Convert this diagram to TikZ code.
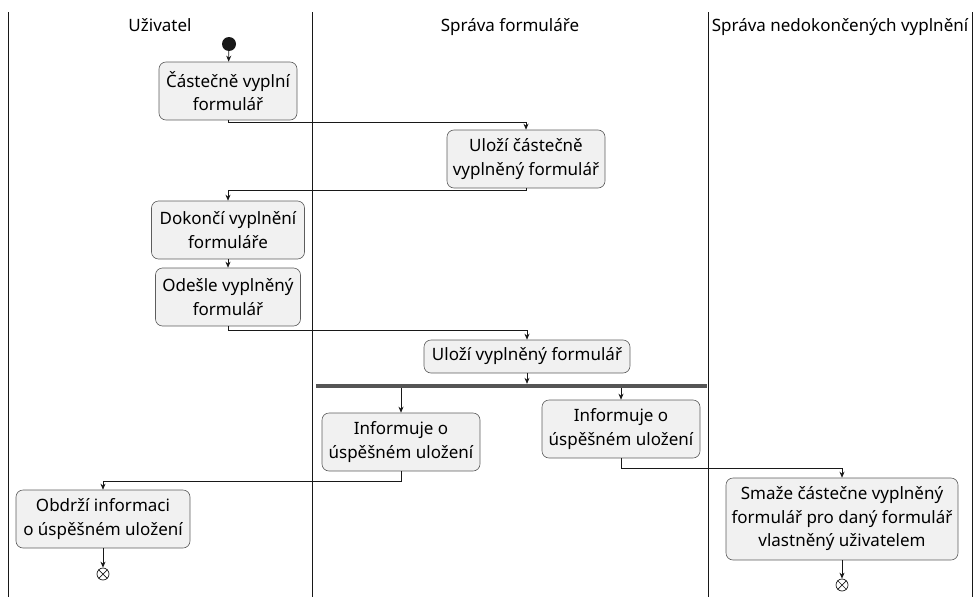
\documentclass[tikz,border=0pt]{standalone}
\usepackage{fontspec}
\setmainfont{Noto Sans}
\usetikzlibrary{arrows.meta}
\definecolor{boxfill}{HTML}{F1F1F1}
\definecolor{ln}{HTML}{181818}
\definecolor{barc}{HTML}{555555}
\begin{document}
\begin{tikzpicture}[x=1pt,y=-1pt,
  font=\fontsize{17}{23.5}\selectfont,
  act/.style={draw=ln!70, line width=0.6pt, fill=boxfill, rounded corners=7pt, align=center, inner sep=0pt},
  arr/.style={draw=ln, line width=0.7pt, -{Stealth[length=6pt,width=5pt]}},
  lane/.style={draw=ln, line width=0.9pt},
  title/.style={inner sep=0pt, anchor=base},
  endn/.style={circle, draw=ln, line width=0.7pt, minimum size=12pt, inner sep=0pt}]
\useasboundingbox (0,0) rectangle (974,597);
% lanes
\draw[lane] (8,12) -- (8,597);
\draw[lane] (312,12) -- (312,597);
\draw[lane] (708,12) -- (708,597);
\draw[lane] (972,12) -- (972,597);
% titles
\node[title] (t1) at (160,31) {Uživatel};
\node[title] (t2) at (510,31) {Správa formuláře};
\node[title] (t3) at (840,31) {Správa nedokončených vyplnění};
% start
\node[circle, fill=ln, minimum size=14pt, inner sep=0pt] (start) at (229,44) {};
% activities
\node[act, minimum width=138pt, minimum height=58pt] (b1) at (228,91) {Částečně vyplní\\formulář};
\node[act, minimum width=158pt, minimum height=58pt] (b2) at (526,159) {Uloží částečně\\vyplněný formulář};
\node[act, minimum width=153pt, minimum height=58pt] (b3) at (228,230) {Dokončí vyplnění\\formuláře};
\node[act, minimum width=145pt, minimum height=58pt] (b4) at (228,297) {Odešle vyplněný\\formulář};
\node[act, minimum width=206pt, minimum height=33pt] (b5) at (527,356.5) {Uloží vyplněný formulář};
\node[fill=barc, inner sep=0pt, minimum width=391pt, minimum height=4pt] (fork) at (511.5,386) {};
\node[act, minimum width=158pt, minimum height=58pt] (b6) at (401,442) {Informuje o\\úspěšném uložení};
\node[act, minimum width=158pt, minimum height=58pt] (b7) at (621,429) {Informuje o\\úspěšném uložení};
\node[act, minimum width=174pt, minimum height=58pt] (b8) at (103,519) {Obdrží informaci\\o úspěšném uložení};
\node[act, minimum width=232pt, minimum height=82pt] (b9) at (842,519) {Smaže částečne vyplněný\\formulář pro daný formulář\\vlastněný uživatelem};
% ends
\node[endn] (e1) at (103,574) {};
\draw[ln, line width=0.7pt] (e1.north west) -- (e1.south east) (e1.north east) -- (e1.south west);
\node[endn] (e2) at (842,585) {};
\draw[ln, line width=0.7pt] (e2.north west) -- (e2.south east) (e2.north east) -- (e2.south west);
% connectors
\draw[arr] (start) -- (b1);
\draw[arr] (b1.south) -- ++(0,2) -| (b2.north);
\draw[arr] (b2.south) -- ++(0,2) -| (b3.north);
\draw[arr] (b3) -- (b4);
\draw[arr] (b4.south) -- ++(0,4) -| (b5.north);
\draw[arr] (b5.south) -- (b5.south |- fork.north);
\draw[arr] (fork.south -| b6.north) -- (b6.north);
\draw[arr] (fork.south -| b7.north) -- (b7.north);
\draw[arr] (b6.south) -- ++(0,10) -| (b8.north);
\draw[arr] (b7.south) -- ++(0,10) -| (b9.north);
\draw[arr] (b8) -- (e1);
\draw[arr] (b9) -- (e2);
\end{tikzpicture}
\end{document}
